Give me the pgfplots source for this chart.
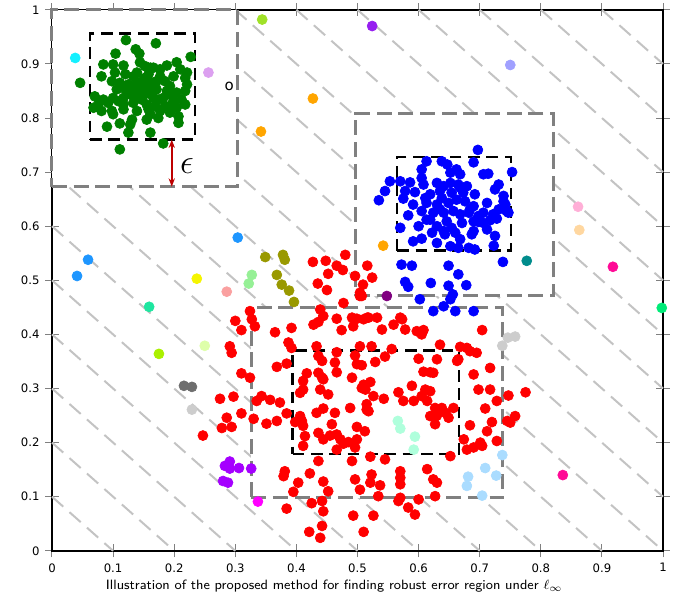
\documentclass[border=0pt]{standalone}
\usepackage{pgfplots}
\pgfplotsset{compat=1.18}
\usetikzlibrary{arrows.meta}
\usepackage{fontspec}
\newfontfamily\dejavu{DejaVu Sans}

\definecolor{hatchgray}{RGB}{195,195,195}
\definecolor{boxgray}{RGB}{128,128,128}
\definecolor{arrowred}{RGB}{190,0,0}
\definecolor{cOlive}{RGB}{153,153,0}
\definecolor{cDodger}{RGB}{30,150,255}
\definecolor{cSpring}{RGB}{30,230,160}
\definecolor{cYellow}{RGB}{245,245,0}
\definecolor{cSalmon}{RGB}{250,160,160}
\definecolor{cChart}{RGB}{170,240,0}
\definecolor{cPale}{RGB}{222,255,170}
\definecolor{cLgreen}{RGB}{150,240,150}
\definecolor{cGray}{RGB}{110,110,110}
\definecolor{cLgray}{RGB}{205,205,205}
\definecolor{cViolet}{RGB}{165,0,255}
\definecolor{cMagenta}{RGB}{255,0,255}
\definecolor{cSky}{RGB}{170,220,255}
\definecolor{cAqua}{RGB}{175,255,220}
\definecolor{cPurple}{RGB}{128,0,128}
\definecolor{cTeal}{RGB}{0,140,140}
\definecolor{cPink}{RGB}{255,175,215}
\definecolor{cPeach}{RGB}{255,215,160}
\definecolor{cDeepPink}{RGB}{255,10,150}
\definecolor{cSpringG}{RGB}{0,235,120}
\definecolor{cCyan}{RGB}{20,240,255}
\definecolor{cLav}{RGB}{220,160,240}
\definecolor{cYG}{RGB}{160,225,40}
\definecolor{cDViolet}{RGB}{150,30,240}
\definecolor{cLavBlue}{RGB}{160,160,255}
\definecolor{cOrange}{RGB}{255,165,0}

\begin{document}
\begin{tikzpicture}
\begin{axis}[
    scale only axis,
    width=366.6pt, height=324.6pt,
    xmin=0, xmax=1, ymin=0, ymax=1,
    xtick={0,0.1,...,1}, ytick={0,0.1,...,1},
    clip=false,
    axis line style={black, line width=0.9pt},
    tick align=center,
    major tick length=8pt,
    tick style={gray, line width=0.6pt},
    ticklabel style={font=\fontsize{7}{8}\selectfont\dejavu},
    /pgf/number format/assume math mode=true,
    xlabel={\fontsize{8.1}{10}\selectfont\sffamily Illustration of the proposed method for finding robust error region under $\ell_\infty$},
    xlabel style={yshift=2pt, xshift=-14pt},
    unbounded coords=jump,
    every axis plot/.append style={mark size=3pt},
]
% background hatching x+y=c
\addplot[hatchgray, line width=1.2pt, dash pattern=on 9pt off 5pt, mark=none] coordinates {
(0,0.1)(0.1,0) (nan,nan) (0,0.2)(0.2,0) (nan,nan) (0,0.3)(0.3,0) (nan,nan)
(0,0.4)(0.4,0) (nan,nan) (0,0.5)(0.5,0) (nan,nan) (0,0.6)(0.6,0) (nan,nan)
(0,0.7)(0.7,0) (nan,nan) (0,0.8)(0.8,0) (nan,nan) (0,0.9)(0.9,0) (nan,nan)
(0,1)(1,0) (nan,nan) (0.1,1)(1,0.1) (nan,nan) (0.2,1)(1,0.2) (nan,nan)
(0.3,1)(1,0.3) (nan,nan) (0.4,1)(1,0.4) (nan,nan) (0.5,1)(1,0.5) (nan,nan)
(0.6,1)(1,0.6) (nan,nan) (0.7,1)(1,0.7) (nan,nan) (0.8,1)(1,0.8) (nan,nan)
(0.9,1)(1,0.9)
};
% gray regions (white filled)
\addplot[boxgray, fill=white, line width=1.8pt, dash pattern=on 9pt off 4pt, mark=none] coordinates {(0,0.673)(0.303,0.673)(0.303,1)(0,1)} -- cycle;
\addplot[boxgray, fill=white, line width=1.8pt, dash pattern=on 9pt off 4pt, mark=none] coordinates {(0.496,0.471)(0.820,0.471)(0.820,0.808)(0.496,0.808)} -- cycle;
\addplot[boxgray, fill=white, line width=1.8pt, dash pattern=on 9pt off 4pt, mark=none] coordinates {(0.326,0.098)(0.737,0.098)(0.737,0.449)(0.326,0.449)} -- cycle;

% scattered single points
\addplot[only marks, mark=*, color=cCyan] coordinates {(0.038,0.911)};
\addplot[only marks, mark=*, color=cLav] coordinates {(0.256,0.884)};
\addplot[only marks, mark=*, color=cYG] coordinates {(0.344,0.982)};
\addplot[only marks, mark=*, color=cDViolet] coordinates {(0.524,0.970)};
\addplot[only marks, mark=*, color=cLavBlue] coordinates {(0.750,0.898)};
\addplot[only marks, mark=*, color=cOrange] coordinates {(0.427,0.836) (0.342,0.775) (0.542,0.564)};
\addplot[only marks, mark=*, color=cDodger] coordinates {(0.304,0.579) (0.059,0.538) (0.041,0.508)};
\addplot[only marks, mark=*, color=cSpring] coordinates {(0.159,0.451)};
\addplot[only marks, mark=*, color=cYellow] coordinates {(0.237,0.503)};
\addplot[only marks, mark=*, color=cSalmon] coordinates {(0.286,0.479)};
\addplot[only marks, mark=*, color=cChart] coordinates {(0.175,0.364)};
\addplot[only marks, mark=*, color=cPale] coordinates {(0.250,0.379)};
\addplot[only marks, mark=*, color=cLgreen] coordinates {(0.327,0.510) (0.322,0.494)};
\addplot[only marks, mark=*, color=cOlive] coordinates {(0.349,0.543) (0.378,0.547) (0.381,0.538) (0.368,0.510) (0.376,0.492) (0.388,0.481) (0.396,0.460)};
\addplot[only marks, mark=*, color=cGray] coordinates {(0.216,0.305) (0.229,0.303)};
\addplot[only marks, mark=*, color=cLgray] coordinates {(0.229,0.261) (0.737,0.379) (0.746,0.394) (0.758,0.396)};
\addplot[only marks, mark=*, color=cViolet] coordinates {(0.283,0.157) (0.291,0.165) (0.291,0.152) (0.306,0.153) (0.326,0.152) (0.280,0.129) (0.288,0.126)};
\addplot[only marks, mark=*, color=cMagenta] coordinates {(0.337,0.091)};
\addplot[only marks, mark=*, color=cSky] coordinates {(0.737,0.177) (0.709,0.153) (0.727,0.139) (0.681,0.137) (0.679,0.120) (0.704,0.102)};
\addplot[only marks, mark=*, color=cAqua] coordinates {(0.566,0.240) (0.570,0.226) (0.594,0.211) (0.592,0.187)};
\addplot[only marks, mark=*, color=cPurple] coordinates {(0.548,0.471)};
\addplot[only marks, mark=*, color=cTeal] coordinates {(0.777,0.536)};
\addplot[only marks, mark=*, color=cPink] coordinates {(0.861,0.636)};
\addplot[only marks, mark=*, color=cPeach] coordinates {(0.863,0.593)};
\addplot[only marks, mark=*, color=cDeepPink] coordinates {(0.918,0.525) (0.836,0.140)};
\addplot[only marks, mark=*, color=cSpringG] coordinates {(0.998,0.449)};

% green cluster
\addplot[only marks, mark=*, color=green!50!black] coordinates {
(0.121,0.944) (0.170,0.938) (0.137,0.927) (0.143,0.919) (0.104,0.919) (0.227,0.913)
(0.084,0.899) (0.100,0.899) (0.117,0.897) (0.144,0.903) (0.152,0.896) (0.188,0.897)
(0.204,0.903) (0.166,0.893) (0.177,0.890) (0.081,0.877) (0.103,0.884) (0.120,0.881)
(0.139,0.884) (0.158,0.881) (0.177,0.877) (0.199,0.877) (0.210,0.890) (0.218,0.874)
(0.046,0.865) (0.098,0.868) (0.111,0.865) (0.125,0.862) (0.147,0.868) (0.163,0.865)
(0.185,0.868) (0.193,0.859) (0.221,0.862) (0.106,0.853) (0.120,0.853) (0.136,0.856)
(0.155,0.856) (0.171,0.853) (0.188,0.850) (0.204,0.847) (0.218,0.850) (0.070,0.840)
(0.084,0.834) (0.100,0.837) (0.117,0.837) (0.139,0.840) (0.152,0.844) (0.166,0.837)
(0.182,0.837) (0.199,0.831) (0.212,0.834) (0.068,0.819) (0.081,0.813) (0.098,0.813)
(0.117,0.825) (0.133,0.828) (0.155,0.825) (0.169,0.822) (0.185,0.822) (0.204,0.819)
(0.218,0.825) (0.100,0.807) (0.117,0.816) (0.139,0.813) (0.161,0.807) (0.177,0.813)
(0.193,0.810) (0.207,0.803) (0.131,0.797) (0.155,0.797) (0.174,0.800) (0.207,0.791)
(0.090,0.784) (0.111,0.790) (0.128,0.788) (0.125,0.773) (0.161,0.773) (0.182,0.753)
(0.111,0.742) (0.147,0.853) (0.161,0.850) (0.128,0.844) (0.092,0.828) (0.171,0.868)
(0.152,0.874) (0.139,0.865) (0.109,0.831) (0.147,0.834) (0.174,0.834) (0.158,0.816)
(0.193,0.843) (0.133,0.877) (0.161,0.893) (0.196,0.825) (0.076,0.825) (0.221,0.884)
};

% blue cluster
\addplot[only marks, mark=*, color=blue] coordinates {
(0.697,0.741) (0.613,0.720) (0.638,0.720) (0.647,0.714) (0.690,0.718) (0.605,0.705)
(0.662,0.705) (0.668,0.696) (0.652,0.699) (0.706,0.696) (0.714,0.697) (0.753,0.700)
(0.553,0.683) (0.570,0.683) (0.586,0.681) (0.605,0.689) (0.608,0.677) (0.630,0.680)
(0.641,0.674) (0.665,0.677) (0.668,0.671) (0.731,0.677) (0.725,0.668) (0.545,0.665)
(0.578,0.665) (0.594,0.663) (0.619,0.659) (0.635,0.665) (0.654,0.662) (0.673,0.662)
(0.692,0.659) (0.739,0.656) (0.535,0.648) (0.575,0.651) (0.591,0.640) (0.613,0.643)
(0.630,0.640) (0.649,0.643) (0.662,0.649) (0.676,0.646) (0.690,0.637) (0.712,0.643)
(0.742,0.640) (0.583,0.620) (0.605,0.628) (0.624,0.625) (0.641,0.625) (0.657,0.628)
(0.668,0.622) (0.682,0.625) (0.706,0.625) (0.722,0.622) (0.747,0.625) (0.731,0.631)
(0.570,0.597) (0.600,0.600) (0.613,0.612) (0.630,0.600) (0.646,0.609) (0.654,0.597)
(0.671,0.606) (0.690,0.609) (0.698,0.608) (0.717,0.611) (0.728,0.614) (0.591,0.572)
(0.605,0.577) (0.630,0.569) (0.643,0.585) (0.660,0.588) (0.668,0.576) (0.687,0.585)
(0.690,0.591) (0.725,0.582) (0.652,0.563) (0.665,0.560) (0.682,0.560) (0.692,0.557)
(0.723,0.564) (0.738,0.534) (0.572,0.529) (0.589,0.527) (0.649,0.527) (0.665,0.511)
(0.678,0.491) (0.578,0.497) (0.583,0.488) (0.620,0.495) (0.649,0.490) (0.656,0.474)
(0.602,0.465) (0.624,0.443) (0.641,0.452) (0.660,0.443) (0.690,0.443) (0.652,0.465)
(0.619,0.612) (0.635,0.631) (0.684,0.631) (0.698,0.619) (0.611,0.652) (0.638,0.652)
(0.652,0.680) (0.679,0.674) (0.641,0.591) (0.622,0.588) (0.712,0.594) (0.739,0.646)
(0.706,0.606) (0.744,0.628)
};

% red cluster
\addplot[only marks, mark=*, color=red] coordinates {
(0.427,0.534) (0.448,0.536) (0.452,0.512) (0.435,0.494) (0.450,0.482) (0.466,0.527)
(0.480,0.547) (0.516,0.527) (0.476,0.519) (0.496,0.508) (0.524,0.505) (0.509,0.492)
(0.504,0.477) (0.507,0.471) (0.516,0.431) (0.532,0.431) (0.570,0.431)
(0.477,0.458) (0.504,0.471) (0.439,0.446) (0.324,0.443) (0.300,0.425) (0.327,0.428)
(0.332,0.415) (0.310,0.408) (0.444,0.434) (0.428,0.418) (0.436,0.423) (0.466,0.429)
(0.491,0.431) (0.499,0.429) (0.510,0.428) (0.518,0.431) (0.493,0.415) (0.474,0.408)
(0.540,0.409) (0.559,0.418) (0.573,0.428) (0.578,0.409) (0.597,0.406) (0.608,0.408)
(0.605,0.400) (0.704,0.408) (0.365,0.404) (0.392,0.412) (0.387,0.385) (0.392,0.375)
(0.291,0.378) (0.294,0.366) (0.433,0.378) (0.466,0.367) (0.496,0.361) (0.504,0.378)
(0.523,0.378) (0.556,0.373) (0.635,0.381) (0.668,0.377) (0.679,0.375) (0.684,0.369)
(0.695,0.366) (0.665,0.354) (0.436,0.360) (0.442,0.351) (0.463,0.348) (0.499,0.345)
(0.507,0.343) (0.529,0.349) (0.545,0.359) (0.600,0.355) (0.630,0.354) (0.663,0.351)
(0.368,0.340) (0.384,0.346) (0.310,0.328) (0.324,0.320) (0.417,0.328) (0.411,0.314)
(0.436,0.329) (0.442,0.320) (0.444,0.317) (0.466,0.330) (0.491,0.320) (0.510,0.307)
(0.521,0.312) (0.608,0.331) (0.619,0.330) (0.624,0.329) (0.690,0.326) (0.717,0.338)
(0.507,0.301) (0.513,0.298) (0.275,0.281) (0.297,0.285) (0.335,0.277) (0.343,0.286)
(0.357,0.279) (0.373,0.274) (0.411,0.298) (0.406,0.292) (0.439,0.298) (0.452,0.289)
(0.526,0.286) (0.543,0.281) (0.567,0.293) (0.575,0.277) (0.589,0.305) (0.592,0.277)
(0.605,0.286) (0.611,0.298) (0.619,0.295) (0.614,0.277) (0.627,0.264) (0.698,0.298)
(0.717,0.298) (0.747,0.287) (0.775,0.293) (0.728,0.277) (0.515,0.271) (0.286,0.246)
(0.278,0.227) (0.294,0.229) (0.310,0.254) (0.330,0.244) (0.351,0.235) (0.368,0.240)
(0.384,0.254) (0.398,0.238) (0.406,0.249) (0.409,0.240) (0.411,0.231) (0.433,0.255)
(0.444,0.263) (0.463,0.255) (0.458,0.234) (0.488,0.264) (0.499,0.229) (0.512,0.221)
(0.515,0.261) (0.518,0.258) (0.619,0.249) (0.630,0.250) (0.638,0.264) (0.644,0.255)
(0.649,0.246) (0.657,0.264) (0.627,0.234) (0.684,0.232) (0.709,0.263) (0.720,0.238)
(0.745,0.240) (0.758,0.249) (0.750,0.237) (0.247,0.213) (0.414,0.212) (0.411,0.194)
(0.436,0.218) (0.444,0.206) (0.455,0.213) (0.466,0.215) (0.472,0.206) (0.477,0.198)
(0.466,0.187) (0.485,0.201) (0.499,0.206) (0.496,0.191) (0.674,0.206) (0.679,0.187)
(0.690,0.191) (0.701,0.200) (0.704,0.194) (0.712,0.221) (0.728,0.203) (0.652,0.175)
(0.436,0.166) (0.491,0.166) (0.521,0.174) (0.545,0.169) (0.379,0.138) (0.381,0.147)
(0.422,0.143) (0.444,0.128) (0.496,0.132) (0.523,0.141) (0.521,0.126) (0.537,0.121)
(0.570,0.147) (0.570,0.135) (0.570,0.123) (0.614,0.151) (0.624,0.132) (0.630,0.126)
(0.403,0.126) (0.395,0.109) (0.452,0.110) (0.504,0.113) (0.534,0.101) (0.570,0.098)
(0.627,0.101) (0.600,0.095) (0.384,0.078) (0.425,0.088) (0.442,0.092) (0.444,0.073)
(0.493,0.065) (0.526,0.065) (0.567,0.092) (0.583,0.080) (0.594,0.067) (0.421,0.035)
(0.442,0.046) (0.439,0.024) (0.510,0.035)
};

% black dashed boxes
\addplot[black, line width=1.5pt, dash pattern=on 7pt off 4pt, mark=none] coordinates {(0.062,0.760)(0.234,0.760)(0.234,0.956)(0.062,0.956)} -- cycle;
\addplot[black, line width=1.5pt, dash pattern=on 7pt off 4pt, mark=none] coordinates {(0.565,0.555)(0.751,0.555)(0.751,0.728)(0.565,0.728)} -- cycle;
\addplot[black, line width=1.5pt, dash pattern=on 7pt off 4pt, mark=none] coordinates {(0.394,0.179)(0.666,0.179)(0.666,0.370)(0.394,0.370)} -- cycle;

% epsilon arrow
\addplot[arrowred, line width=1.2pt, {Stealth[length=5pt]}-{Stealth[length=5pt]}, mark=none] coordinates {(0.196,0.760)(0.196,0.673)};
\node at (axis cs:0.221,0.712) {\fontsize{21}{24}\selectfont$\epsilon$};
\node at (axis cs:0.290,0.858) {\fontsize{9}{10}\selectfont\dejavu o};
\end{axis}
\path ([shift={(-31.2pt,-28.8pt)}]current axis.south west) rectangle ([shift={(7.8pt,4.2pt)}]current axis.north east);
\end{tikzpicture}
\end{document}
